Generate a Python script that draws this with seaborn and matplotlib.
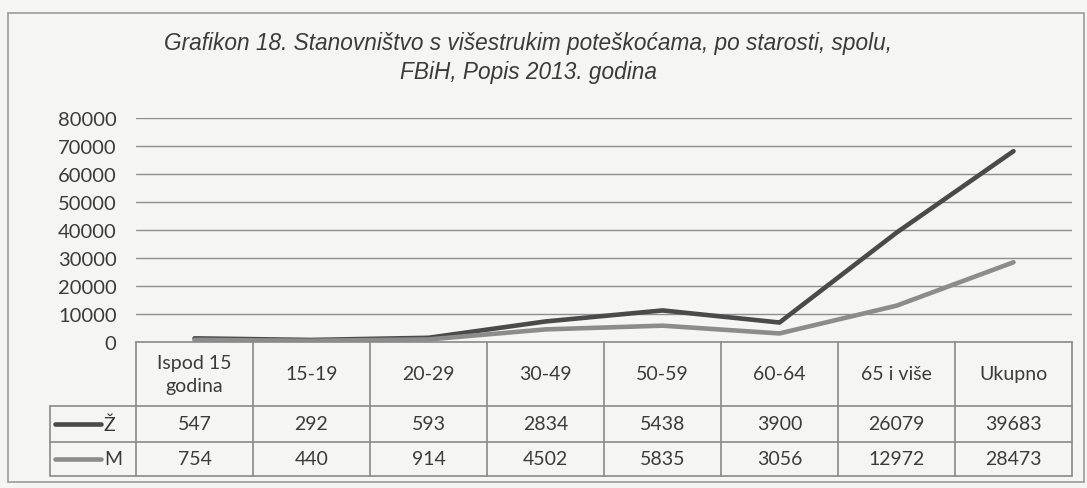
import numpy as np
import pandas as pd
import matplotlib
matplotlib.use("Agg")
import matplotlib.pyplot as plt
import matplotlib.transforms as mtransforms
from matplotlib.lines import Line2D
from matplotlib.patches import Rectangle
import seaborn as sns

# podaci
kategorije = ["Ispod 15\ngodina", "15-19", "20-29", "30-49", "50-59", "60-64", "65 i više", "Ukupno"]
zene = [547, 292, 593, 2834, 5438, 3900, 26079, 39683]
muskarci = [754, 440, 914, 4502, 5835, 3056, 12972, 28473]
y_ticks = [0, 10000, 20000, 30000, 40000, 50000, 60000, 70000, 80000]

naslov = ("Grafikon 18. Stanovništvo s višestrukim poteškoćama, po starosti, spolu,\n"
          "FBiH, Popis 2013. godina")

sns.set_style("white")
plt.rcParams["font.family"] = ["Lato", "DejaVu Sans"]

BG = "#f5f5f3"
TXT = "#3b3b3b"
GRID = "#8e8e8e"
DARK = "#4a4a4a"
LIGHT = "#8c8c8c"
FS = 14

W, H = 1087, 489
fig = plt.figure(figsize=(W / 100, H / 100), dpi=100)
fig.patch.set_facecolor(BG)


def fx(px):
    return px / W


def fy(py):
    return 1 - py / H


# plot area (pixel positions of the original)
x0, x1 = 136, 1072
y_top, y_zero = 119, 343
ax = fig.add_axes([fx(x0), fy(y_zero), fx(x1 - x0), (y_zero - y_top) / H])
ax.set_facecolor("none")

# naslagane linije: M na dnu, Ž iznad (kao u Excelu)
n = len(kategorije)
df = pd.DataFrame({
    "x": list(range(n)) * 2,
    "vrijednost": list(np.array(muskarci) + np.array(zene)) + list(muskarci),
    "spol": ["Ž"] * n + ["M"] * n,
})
sns.lineplot(data=df, x="x", y="vrijednost", hue="spol",
             palette={"Ž": DARK, "M": LIGHT}, linewidth=3.3,
             legend=False, ax=ax, zorder=3)

ax.set_xlim(-0.5, n - 0.5)
ax.set_ylim(0, 80000)
ax.set_yticks(y_ticks)
ax.set_yticklabels([str(t) for t in y_ticks], fontsize=FS + 0.5, color=TXT)
ax.tick_params(axis="y", length=0, pad=14)
ax.set_xticks([])
ax.set_xlabel("")
ax.set_ylabel("")
for t in y_ticks[1:]:
    ax.axhline(t, color=GRID, lw=1.0, zorder=1)
for s in ax.spines.values():
    s.set_visible(False)

# tablica s podacima
trans = mtransforms.blended_transform_factory(ax.transData, fig.transFigure)
row_hdr = (343, 407)
row_z = (407, 443)
row_m = (443, 477)
leg_left = 50
lc = "#8a8a8a"

# vodoravne linije
fig.add_artist(Line2D([-0.5, n - 0.5], [fy(row_hdr[0])] * 2, transform=trans, color=lc, lw=1.2))
for yy in (row_z[0], row_m[0], row_m[1]):
    fig.add_artist(Line2D([fx(leg_left), fx(x1)], [fy(yy)] * 2,
                          transform=fig.transFigure, color=lc, lw=1.2))
# okomite linije
for i in range(n + 1):
    fig.add_artist(Line2D([i - 0.5, i - 0.5], [fy(row_hdr[0]), fy(row_m[1])],
                          transform=trans, color=lc, lw=1.2))
fig.add_artist(Line2D([fx(leg_left)] * 2, [fy(row_z[0]), fy(row_m[1])],
                      transform=fig.transFigure, color=lc, lw=1.2))

for i, kat in enumerate(kategorije):
    fig.text(i, fy(sum(row_hdr) / 2), kat, transform=trans, ha="center", va="center",
             fontsize=FS, color=TXT, linespacing=1.4)
    fig.text(i, fy(sum(row_z) / 2), str(zene[i]), transform=trans, ha="center", va="center",
             fontsize=FS, color=TXT)
    fig.text(i, fy(sum(row_m) / 2), str(muskarci[i]), transform=trans, ha="center", va="center",
             fontsize=FS, color=TXT)

# legenda u tablici
for (r0, r1), lab, col in ((row_z, "Ž", DARK), (row_m, "M", LIGHT)):
    yc = fy((r0 + r1) / 2)
    fig.add_artist(Line2D([fx(55), fx(101)], [yc, yc], transform=fig.transFigure,
                          color=col, lw=3.3))
    fig.text(fx(104), yc, lab, ha="left", va="center", fontsize=FS, color=TXT)

# naslov
fig.text(fx(528), fy(58), naslov, ha="center", va="center", fontsize=16.3,
         style="italic", color=TXT, family=["Liberation Sans", "DejaVu Sans"],
         linespacing=1.3)

# okvir
fig.add_artist(Rectangle((fx(8), fy(483)), fx(1076), (483 - 14) / H,
                         transform=fig.transFigure, fill=False, ec="#9a9a9a", lw=1.2))

fig.savefig("out.png", dpi=100, facecolor=BG)
